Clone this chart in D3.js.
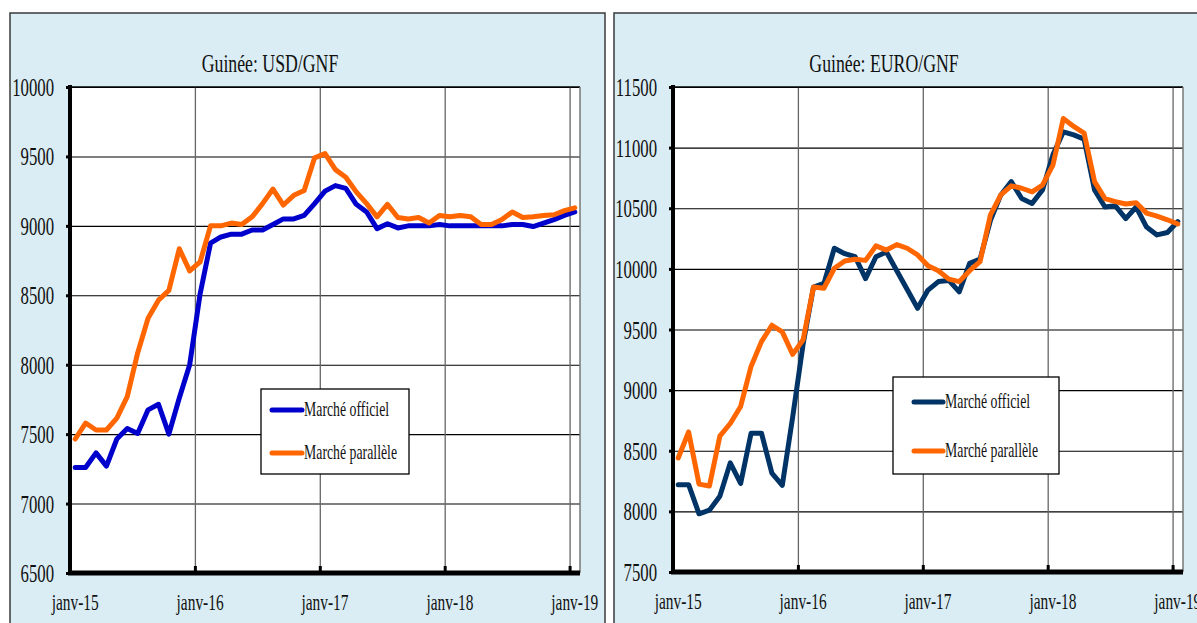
<!DOCTYPE html>
<meta charset="utf-8">
<style>
    body { margin: 0; background: #fff; }
    svg { display: block; }
    .lbl { font-family: "Liberation Serif", serif; fill: #111; }
</style>
<body>
<script src="https://d3js.org/d3.v7.min.js"></script>
<script>

// months janv-15 .. janv-19 (49 monthly points)
var months = [
    "janv-15","févr-15","mars-15","avr-15","mai-15","juin-15","juil-15","août-15","sept-15","oct-15","nov-15","déc-15",
    "janv-16","févr-16","mars-16","avr-16","mai-16","juin-16","juil-16","août-16","sept-16","oct-16","nov-16","déc-16",
    "janv-17","févr-17","mars-17","avr-17","mai-17","juin-17","juil-17","août-17","sept-17","oct-17","nov-17","déc-17",
    "janv-18","févr-18","mars-18","avr-18","mai-18","juin-18","juil-18","août-18","sept-18","oct-18","nov-18","déc-18",
    "janv-19"
];
var xLabels = ["janv-15", "janv-16", "janv-17", "janv-18", "janv-19"];
var seriesNames = ["Marché officiel", "Marché parallèle"];

// USD/GNF
var usdOfficiel = [
    7260, 7260, 7365, 7270, 7465, 7540, 7505, 7675, 7715, 7500, 7760, 8000,
    8510, 8875, 8920, 8940, 8940, 8970, 8970, 9010, 9050, 9050, 9075, 9160,
    9250, 9290, 9270, 9155, 9100, 8980, 9015, 8985, 9000, 9000, 9000, 9010,
    9000, 9000, 9000, 9000, 9000, 9000, 9010, 9010, 8995, 9020, 9045, 9075,
    9100
];
var usdParallele = [
    7465, 7580, 7530, 7530, 7615, 7770, 8085, 8335, 8465, 8535, 8835, 8675,
    8740, 9000, 9000, 9020, 9010, 9065, 9160, 9265, 9150, 9220, 9255, 9490,
    9520, 9405, 9350, 9245, 9160, 9065, 9155, 9060, 9050, 9060, 9020, 9075,
    9065, 9075, 9065, 9010, 9010, 9045, 9100, 9060, 9065, 9075, 9080, 9110,
    9130
];

// EURO/GNF
var euroOfficiel = [
    8220, 8220, 7980, 8010, 8125, 8400, 8230, 8645, 8645, 8315, 8215, 8780,
    9380, 9850, 9880, 10170, 10125, 10100, 9920, 10100, 10140, 9985, 9830, 9675,
    9825, 9895, 9905, 9810, 10045, 10080, 10400, 10610, 10720, 10580, 10540, 10650,
    10940, 11130, 11105, 11070, 10650, 10510, 10520, 10415, 10510, 10345, 10280, 10300,
    10390
];
var euroParallele = [
    8440, 8655, 8225, 8210, 8620, 8725, 8865, 9195, 9400, 9535, 9480, 9295,
    9415, 9850, 9840, 10005, 10065, 10080, 10070, 10190, 10155, 10200, 10170, 10115,
    10025, 9985, 9915, 9895, 9985, 10060, 10445, 10610, 10685, 10665, 10635, 10690,
    10855, 11240, 11175, 11120, 10720, 10580, 10555, 10535, 10545, 10460, 10435, 10405,
    10370
];

var usdTicks = [6500, 7000, 7500, 8000, 8500, 9000, 9500, 10000];
var euroTicks = [7500, 8000, 8500, 9000, 9500, 10000, 10500, 11000, 11500];

var panels = [
    {
        title: "Guinée: USD/GNF", titleX: 270,
        box: [10, 605, 13], plot: {l: 70, r: 580, t: 87, b: 573},
        domain: [6500, 10000], ticks: usdTicks,
        series: [usdOfficiel, usdParallele], colors: ["#0000cc", "#ff6600"],
        legend: {x: 261, y: 389, w: 148, h: 85, lx: 272, tx: 304, y1: 410, y2: 453}
    },
    {
        title: "Guinée: EURO/GNF", titleX: 884,
        box: [614, 1215, 13], plot: {l: 673, r: 1183, t: 87, b: 572},
        domain: [7500, 11500], ticks: euroTicks,
        series: [euroOfficiel, euroParallele], colors: ["#003366", "#ff6600"],
        legend: {x: 893, y: 377, w: 166, h: 97, lx: 914, tx: 945, y1: 402, y2: 451}
    }
];

var W = 1197, H = 623, SX = 0.67;

var svg = d3.select("body").append("svg")
    .attr("width", W)
    .attr("height", H);

// condensed serif text helper
function label(g, txt, x, y, size, anchor, sx) {
    return g.append("text")
        .attr("class", "lbl")
        .attr("transform", "translate(" + x + "," + y + ") scale(" + (sx || SX) + ",1)")
        .attr("text-anchor", anchor || "start")
        .style("font-size", size + "px")
        .text(txt);
}

panels.forEach(function (p) {
    var g = svg.append("g");
    var pl = p.plot;

    // outer light blue frame
    g.append("rect")
        .attr("x", p.box[0]).attr("y", p.box[2])
        .attr("width", p.box[1] - p.box[0]).attr("height", H + 20)
        .attr("fill", "#daedf4")
        .attr("stroke", "#3a3a3a").attr("stroke-width", 1.5);

    g.append("rect")
        .attr("x", pl.l).attr("y", pl.t)
        .attr("width", pl.r - pl.l).attr("height", pl.b - pl.t)
        .attr("fill", "#fff");

    var x = d3.scaleLinear().domain([0, months.length]).range([pl.l, pl.r]);
    var y = d3.scaleLinear().domain(p.domain).range([pl.b, pl.t]);

    // horizontal grid
    g.append("g")
        .attr("transform", "translate(" + pl.l + ",0)")
        .call(d3.axisLeft(y).tickValues(p.ticks).tickSize(-(pl.r - pl.l)).tickFormat(""))
        .call(function (a) {
            a.select(".domain").remove();
            a.selectAll("line").attr("stroke", "#000").attr("stroke-width", 1.1);
        });

    // vertical grid at each january
    var janIdx = xLabels.map(function (m) { return months.indexOf(m); });
    g.append("g")
        .attr("transform", "translate(0," + pl.b + ")")
        .call(d3.axisBottom(x).tickValues(janIdx.filter(function (i) { return i > 0; }))
            .tickSize(-(pl.b - pl.t)).tickFormat(""))
        .call(function (a) {
            a.select(".domain").remove();
            a.selectAll("line").attr("stroke", "#666").attr("stroke-width", 1.3);
        });

    // plot frame top / right
    g.append("line").attr("x1", pl.l).attr("x2", pl.r).attr("y1", pl.t).attr("y2", pl.t)
        .attr("stroke", "#000").attr("stroke-width", 1.3);
    g.append("line").attr("x1", pl.r).attr("x2", pl.r).attr("y1", pl.t).attr("y2", pl.b)
        .attr("stroke", "#777").attr("stroke-width", 1.5);

    // y tick labels
    var yAx = g.append("g")
        .attr("transform", "translate(" + pl.l + ",0)")
        .call(d3.axisLeft(y).tickValues(p.ticks).tickSize(4).tickFormat(d3.format("d")));
    yAx.select(".domain").remove();
    yAx.selectAll("line").attr("stroke", "#000").attr("stroke-width", 3);
    yAx.selectAll("text")
        .attr("class", "lbl")
        .attr("x", -16 / SX).attr("dy", "0.34em")
        .attr("transform", "scale(" + SX + ",1)")
        .style("font-size", "25px");

    // x tick labels, centred on the january point
    var xAx = g.append("g")
        .attr("transform", "translate(0," + pl.b + ")")
        .call(d3.axisBottom(x).tickValues(janIdx.map(function (i) { return i + 0.5; }))
            .tickSize(0).tickFormat(function (d) { return months[d - 0.5]; }));
    xAx.select(".domain").remove();
    xAx.selectAll(".tick").attr("transform", function (d) {
        return "translate(" + x(d) + ",37) scale(" + SX + ",1)";
    });
    xAx.selectAll("text")
        .attr("class", "lbl")
        .attr("y", 0).attr("dy", 0)
        .style("font-size", "23px");

    // small tick marks on the x axis
    g.append("g")
        .attr("transform", "translate(0," + pl.b + ")")
        .call(d3.axisBottom(x).tickValues(janIdx.filter(function (i) { return i > 0; }))
            .tickSize(-7).tickFormat(""))
        .call(function (a) {
            a.select(".domain").remove();
            a.selectAll("line").attr("stroke", "#000").attr("stroke-width", 3);
        });

    // thick axes
    g.append("line").attr("x1", pl.l).attr("x2", pl.l).attr("y1", pl.t - 2).attr("y2", pl.b)
        .attr("stroke", "#000").attr("stroke-width", 4);
    g.append("line").attr("x1", pl.l - 2).attr("x2", pl.r).attr("y1", pl.b).attr("y2", pl.b)
        .attr("stroke", "#000").attr("stroke-width", 5);

    // series
    var line = d3.line()
        .x(function (d, i) { return x(i + 0.5); })
        .y(function (d) { return y(d); });
    p.series.forEach(function (s, k) {
        g.append("path")
            .datum(s)
            .attr("d", line)
            .attr("fill", "none")
            .attr("stroke", p.colors[k])
            .attr("stroke-width", 5)
            .attr("stroke-linejoin", "round")
            .attr("stroke-linecap", "round");
    });

    // legend
    var L = p.legend;
    g.append("rect")
        .attr("x", L.x).attr("y", L.y).attr("width", L.w).attr("height", L.h)
        .attr("fill", "#fff").attr("stroke", "#000").attr("stroke-width", 1.3);
    [L.y1, L.y2].forEach(function (ly, k) {
        g.append("line")
            .attr("x1", L.lx).attr("x2", L.tx - 2).attr("y1", ly).attr("y2", ly)
            .attr("stroke", p.colors[k]).attr("stroke-width", 5)
            .attr("stroke-linecap", "round");
        label(g, seriesNames[k], L.tx, ly + 6, 20, "start", 0.69);
    });

    // title
    label(g, p.title, p.titleX, 72, 25, "middle", 0.71);
});

</script>
</body>
